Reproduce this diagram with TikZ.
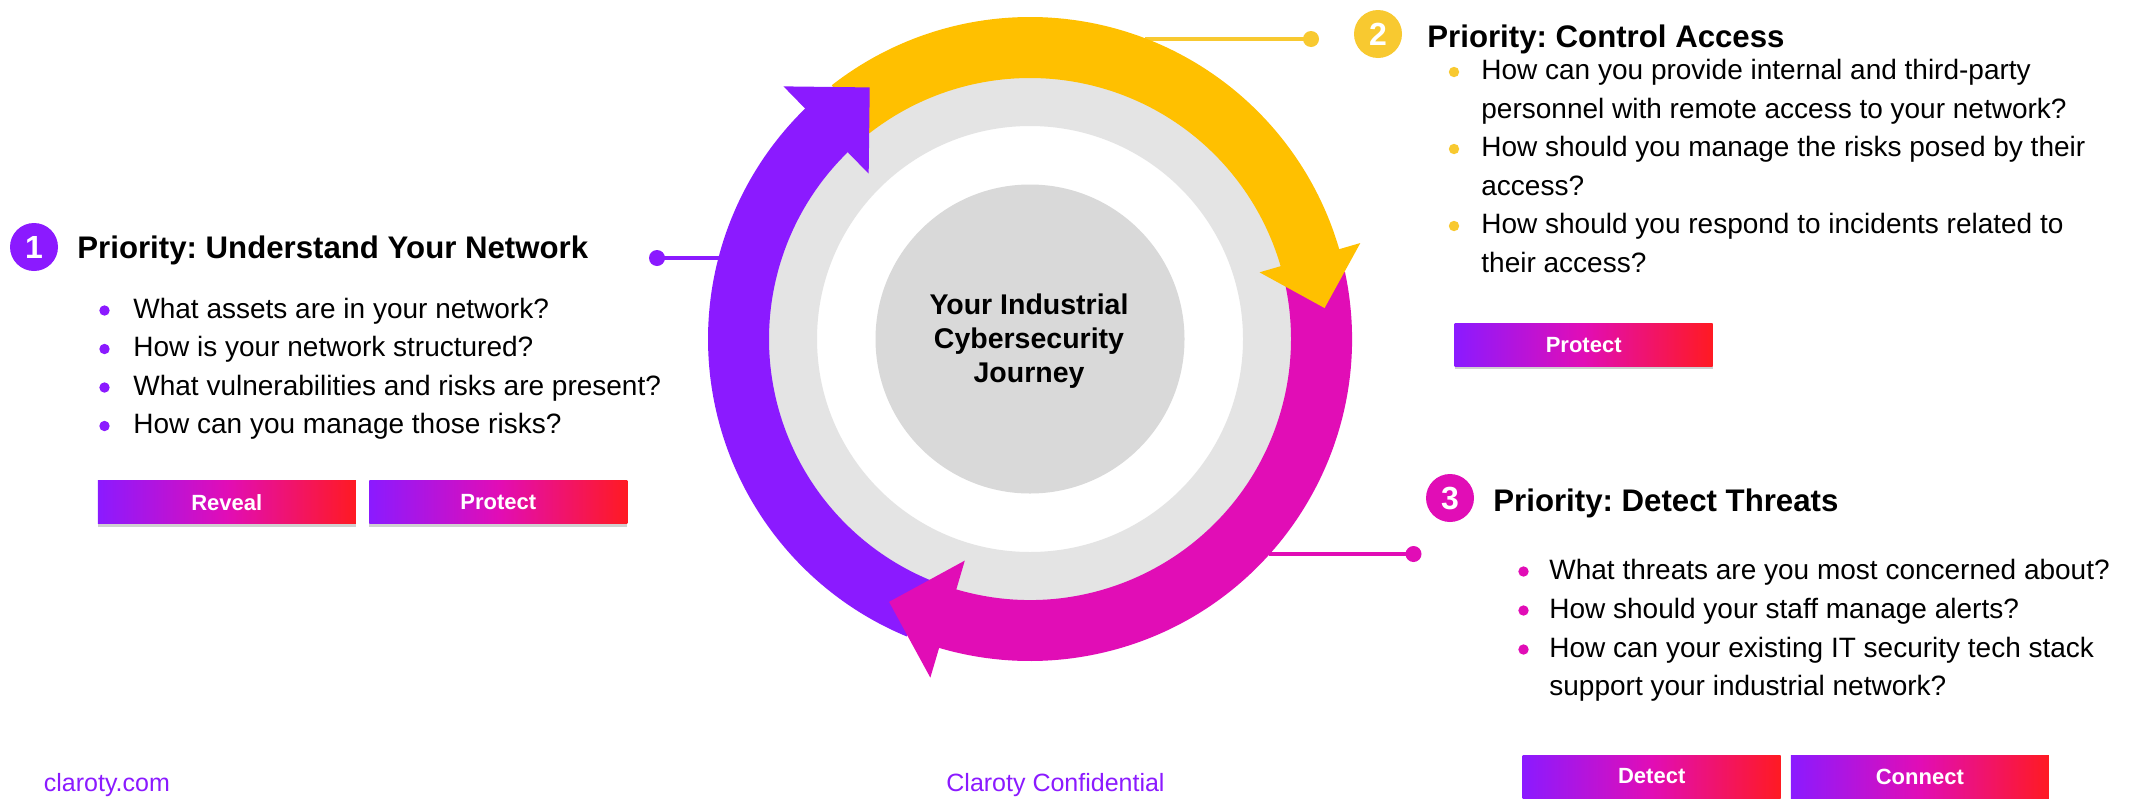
\documentclass[tikz,border=0pt]{standalone}
\usepackage{fontspec}
\setmainfont{Liberation Sans}
\usetikzlibrary{calc,shadows}
\definecolor{cpurple}{HTML}{8B1AFF}
\definecolor{cyellow}{HTML}{FFC000}
\definecolor{cyellowl}{HTML}{F8C930}
\definecolor{cmagenta}{HTML}{E10DB6}
\definecolor{cred}{HTML}{FF1A22}
\definecolor{cring}{HTML}{E4E4E4}
\definecolor{cdisk}{HTML}{D9D9D9}
\frenchspacing
\begin{document}
\begin{tikzpicture}[x=0.5pt,y=-0.5pt,
  titlet/.style={anchor=base west, inner sep=0pt, font=\fontsize{15.6}{18}\selectfont\bfseries},
  bul/.style={anchor=base west, inner sep=0pt, font=\fontsize{14}{17}\selectfont},
  dotb/.style={circle, fill=#1, minimum size=5.2pt, inner sep=0pt},
  numc/.style={circle, fill=#1, minimum size=24pt, inner sep=0pt, text=white, font=\fontsize{16}{18}\selectfont\bfseries},
  btn/.style={minimum width=129pt, minimum height=21.5pt, inner sep=0pt,
    left color=cpurple, right color=cred, middle color=cmagenta, text=white,
    font=\fontsize{11}{13}\selectfont\bfseries,
    drop shadow={shadow xshift=0pt, shadow yshift=-1.5pt, opacity=0.3, fill=black!60}},
  enddot/.style={circle, fill=#1, minimum size=8pt, inner sep=0pt},
  conn/.style={line width=2pt, draw=#1},
  centert/.style={anchor=base, inner sep=0pt, font=\fontsize{14.25}{17}\selectfont\bfseries},
  foot/.style={anchor=base west, inner sep=0pt, text=cpurple, font=\fontsize{12.5}{15}\selectfont},
]
\useasboundingbox (0,0) rectangle (2129,798);
\fill[white] (0,0) rectangle (2129,798);
\coordinate (C) at (1030,339);

% connectors (behind the ring)
\node[enddot=cpurple] (d1) at (657,258) {};
\coordinate (e1) at (719,258);
\draw[conn=cpurple] (d1.center) -- (e1);
\node[enddot=cyellowl] (d2) at (1311,39) {};
\coordinate (e2) at (1145,39);
\draw[conn=cyellowl] (d2.center) -- (e2);
\node[enddot=cmagenta] (d3) at (1413.5,554) {};
\coordinate (e3) at (1269,554);
\draw[conn=cmagenta] (d3.center) -- (e3);

% ring and disk
\fill[cring, even odd rule] (C) circle[radius=262] (C) circle[radius=213];
\fill[cdisk] (C) circle[radius=154.5];

% shafts
\fill[cpurple] ($(C)+(-247.5:322)$) arc[start angle=-247.5, end angle=-133.8, radius=322]
  -- ($(C)+(-133.8:261)$) arc[start angle=-133.8, end angle=-247.5, radius=261] -- cycle;
\fill[cyellow] ($(C)+(-128:322)$) arc[start angle=-128, end angle=-15.7, radius=322]
  -- ($(C)+(-15.7:261)$) arc[start angle=-15.7, end angle=-128, radius=261] -- cycle;
\fill[cmagenta] ($(C)+(-12:322)$) arc[start angle=-12, end angle=106.9, radius=322]
  -- ($(C)+(106.9:261)$) arc[start angle=106.9, end angle=-12, radius=261] -- cycle;
% heads
\fill[cpurple] ($(C)+(-134.3:231)$) -- ($(C)+(-134.3:353)$) -- ($(C)+(-122.5:298.3)$) -- cycle;
\fill[cyellow] ($(C)+(-16.2:239)$) -- ($(C)+(-16.2:344)$) -- ($(C)+(-6.0:296.2)$) -- cycle;
\fill[cmagenta] ($(C)+(106.4:231)$) -- ($(C)+(106.4:353)$) -- ($(C)+(118.2:298.3)$) -- cycle;

% centre text
\node[centert] (ct1) at (1029,314) {Your Industrial};
\node[centert] (ct2) at (1029,348) {Cybersecurity};
\node[centert] (ct3) at (1029,382) {Journey};

% block 1
\node[numc=cpurple] (n1) at (34,247) {1};
\node[titlet] (t1) at (77,258) {Priority: Understand Your Network};
\node[dotb=cpurple] (b11) at (104.5,310.5) {};
\node[bul] (l11) at (133,318) {What assets are in your network?};
\node[dotb=cpurple] (b12) at (104.5,349) {};
\node[bul] (l12) at (133,356.5) {How is your network structured?};
\node[dotb=cpurple] (b13) at (104.5,387.5) {};
\node[bul] (l13) at (133,395) {What vulnerabilities and risks are present?};
\node[dotb=cpurple] (b14) at (104.5,426) {};
\node[bul] (l14) at (133,433.5) {How can you manage those risks?};
\node[btn] (r1) at (226.8,502.4) {Reveal};
\node[btn] (p1) at (498.3,502.4) {Protect};

% block 2
\node[numc=cyellowl] (n2) at (1378,34) {2};
\node[titlet] (t2) at (1427,47) {Priority: Control Access};
\node[dotb=cyellowl] (b21) at (1454,72) {};
\node[bul] (l21) at (1481,79.5) {How can you provide internal and third-party};
\node[bul] (l21b) at (1481,118) {personnel with remote access to your network?};
\node[dotb=cyellowl] (b22) at (1454,149) {};
\node[bul] (l22) at (1481,156.5) {How should you manage the risks posed by their};
\node[bul] (l22b) at (1481,195) {access?};
\node[dotb=cyellowl] (b23) at (1454,226) {};
\node[bul] (l23) at (1481,233.5) {How should you respond to incidents related to};
\node[bul] (l23b) at (1481,272) {their access?};
\node[btn] (p2) at (1583.7,344.8) {Protect};

% block 3
\node[numc=cmagenta] (n3) at (1450,498) {3};
\node[titlet] (t3) at (1493,511) {Priority: Detect Threats};
\node[dotb=cmagenta] (b31) at (1523.5,571.5) {};
\node[bul] (l31) at (1549,579) {What threats are you most concerned about?};
\node[dotb=cmagenta] (b32) at (1523.5,610.5) {};
\node[bul] (l32) at (1549,618) {How should your staff manage alerts?};
\node[dotb=cmagenta] (b33) at (1523.5,649.5) {};
\node[bul] (l33) at (1549,657) {How can your existing IT security tech stack};
\node[bul] (l33b) at (1549,695.5) {support your industrial network?};
\node[btn] (dt) at (1651.7,776.5) {Detect};
\node[btn] (cn) at (1919.8,776.5) {Connect};

% footer
\node[foot] (f1) at (43.5,791) {claroty.com};
\node[foot] (f2) at (946,791) {Claroty Confidential};
\end{tikzpicture}
\end{document}
